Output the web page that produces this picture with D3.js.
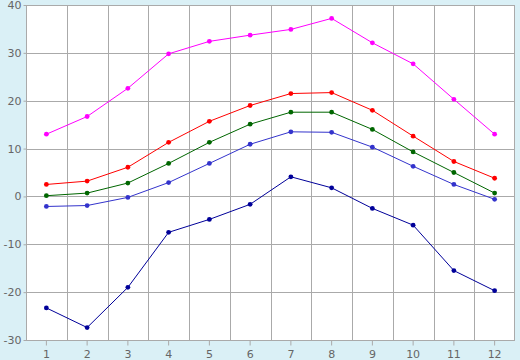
<!DOCTYPE html>
<html>
<head>
<meta charset="utf-8">
<script src="https://cdn.jsdelivr.net/npm/d3@7"></script>
<style>
  body { margin: 0; background: #daf0f6; }
  svg { display: block; }
</style>
</head>
<body>
<div class="canvas"></div>
<script>
// data
const months = [1, 2, 3, 4, 5, 6, 7, 8, 9, 10, 11, 12]
const maxTemp = [13.0, 16.7, 22.6, 29.8, 32.4, 33.7, 34.9, 37.2, 32.1, 27.7, 20.3, 13.0]
const highTemp = [2.5, 3.2, 6.1, 11.3, 15.7, 19.0, 21.5, 21.7, 18.0, 12.6, 7.3, 3.8]
const meanTemp = [0.15, 0.7, 2.8, 6.9, 11.3, 15.1, 17.6, 17.6, 14.0, 9.3, 5.0, 0.7]
const lowTemp = [-2.1, -1.9, -0.2, 2.9, 6.9, 10.9, 13.5, 13.4, 10.3, 6.3, 2.5, -0.6]
const minTemp = [-23.3, -27.4, -19.0, -7.5, -4.8, -1.65, 4.1, 1.8, -2.5, -6.0, -15.5, -19.7]
const yTicks = [-30, -20, -10, 0, 10, 20, 30, 40]

const series = [
    { values: maxTemp, color: '#ff00ff' },
    { values: highTemp, color: '#ff0000' },
    { values: meanTemp, color: '#006600' },
    { values: lowTemp, color: '#3333cc' },
    { values: minTemp, color: '#000099' }
]

// graph dimensions
const dims = { width: 520, height: 360 }
const margins = { top: 5, right: 5, bottom: 20, left: 26 }
const graphDims = {
    width: dims.width - margins.left - margins.right,
    height: dims.height - margins.top - margins.bottom
}

const svg = d3.select('.canvas')
    .append('svg')
    .attr('width', dims.width)
    .attr('height', dims.height)

svg.append('rect')
    .attr('width', dims.width)
    .attr('height', dims.height)
    .attr('fill', '#daf0f6')

const graph = svg.append('g')
    .attr('transform', `translate(${margins.left}, ${margins.top})`)

// scales
const x = d3.scaleBand().domain(months).range([0, graphDims.width])
const y = d3.scaleLinear().domain([-30, 40]).range([graphDims.height, 0])

graph.append('rect')
    .attr('width', graphDims.width)
    .attr('height', graphDims.height)
    .attr('fill', '#fff')

// grid
const grid = graph.append('g')
    .attr('stroke', '#aaa')
    .attr('stroke-width', 1)
    .attr('shape-rendering', 'crispEdges')

grid.selectAll('.hgrid')
    .data(yTicks)
    .join('line')
    .attr('x1', 0)
    .attr('x2', graphDims.width)
    .attr('y1', d => Math.round(y(d)) + 0.5)
    .attr('y2', d => Math.round(y(d)) + 0.5)

grid.selectAll('.vgrid')
    .data(months.slice(1))
    .enter().append('line')
    .attr('x1', d => Math.round(x(d)) + 0.5)
    .attr('x2', d => Math.round(x(d)) + 0.5)
    .attr('y1', 0)
    .attr('y2', graphDims.height)

grid.append('rect')
    .attr('x', 0.5)
    .attr('y', 0.5)
    .attr('width', graphDims.width - 1)
    .attr('height', graphDims.height)
    .attr('fill', 'none')

// axes
const xAxis = graph.append('g')
    .attr('transform', `translate(0, ${graphDims.height + 0.5})`)
    .call(d3.axisBottom(x).tickSize(5).tickPadding(5))

const yAxis = graph.append('g')
    .attr('transform', 'translate(0.5, 0)')
    .call(d3.axisLeft(y).tickValues(yTicks).tickSize(3).tickPadding(2)
        .tickFormat(d => String(d)))

graph.selectAll('.domain').remove()
graph.selectAll('.tick line').attr('stroke', '#aaa')
graph.selectAll('.tick text')
    .attr('fill', '#666')
    .style('font-family', 'DejaVu Sans, Verdana, sans-serif')
    .style('font-size', '11px')

// lines and markers
const cx = d => x(d) + x.bandwidth() / 2
const line = d3.line()
    .x((d, i) => cx(months[i]))
    .y(d => y(d))

const marker = d3.symbol().type(d3.symbolCircle).size(18)

series.forEach(s => {
    graph.append('path')
        .datum(s.values)
        .attr('fill', 'none')
        .attr('stroke', s.color)
        .attr('stroke-width', 1)
        .attr('d', line)

    graph.append('g').selectAll('path')
        .data(s.values)
        .join('path')
        .attr('d', marker)
        .attr('transform', (d, i) => `translate(${cx(months[i])}, ${y(d)})`)
        .attr('fill', s.color)
})
</script>
</body>
</html>
